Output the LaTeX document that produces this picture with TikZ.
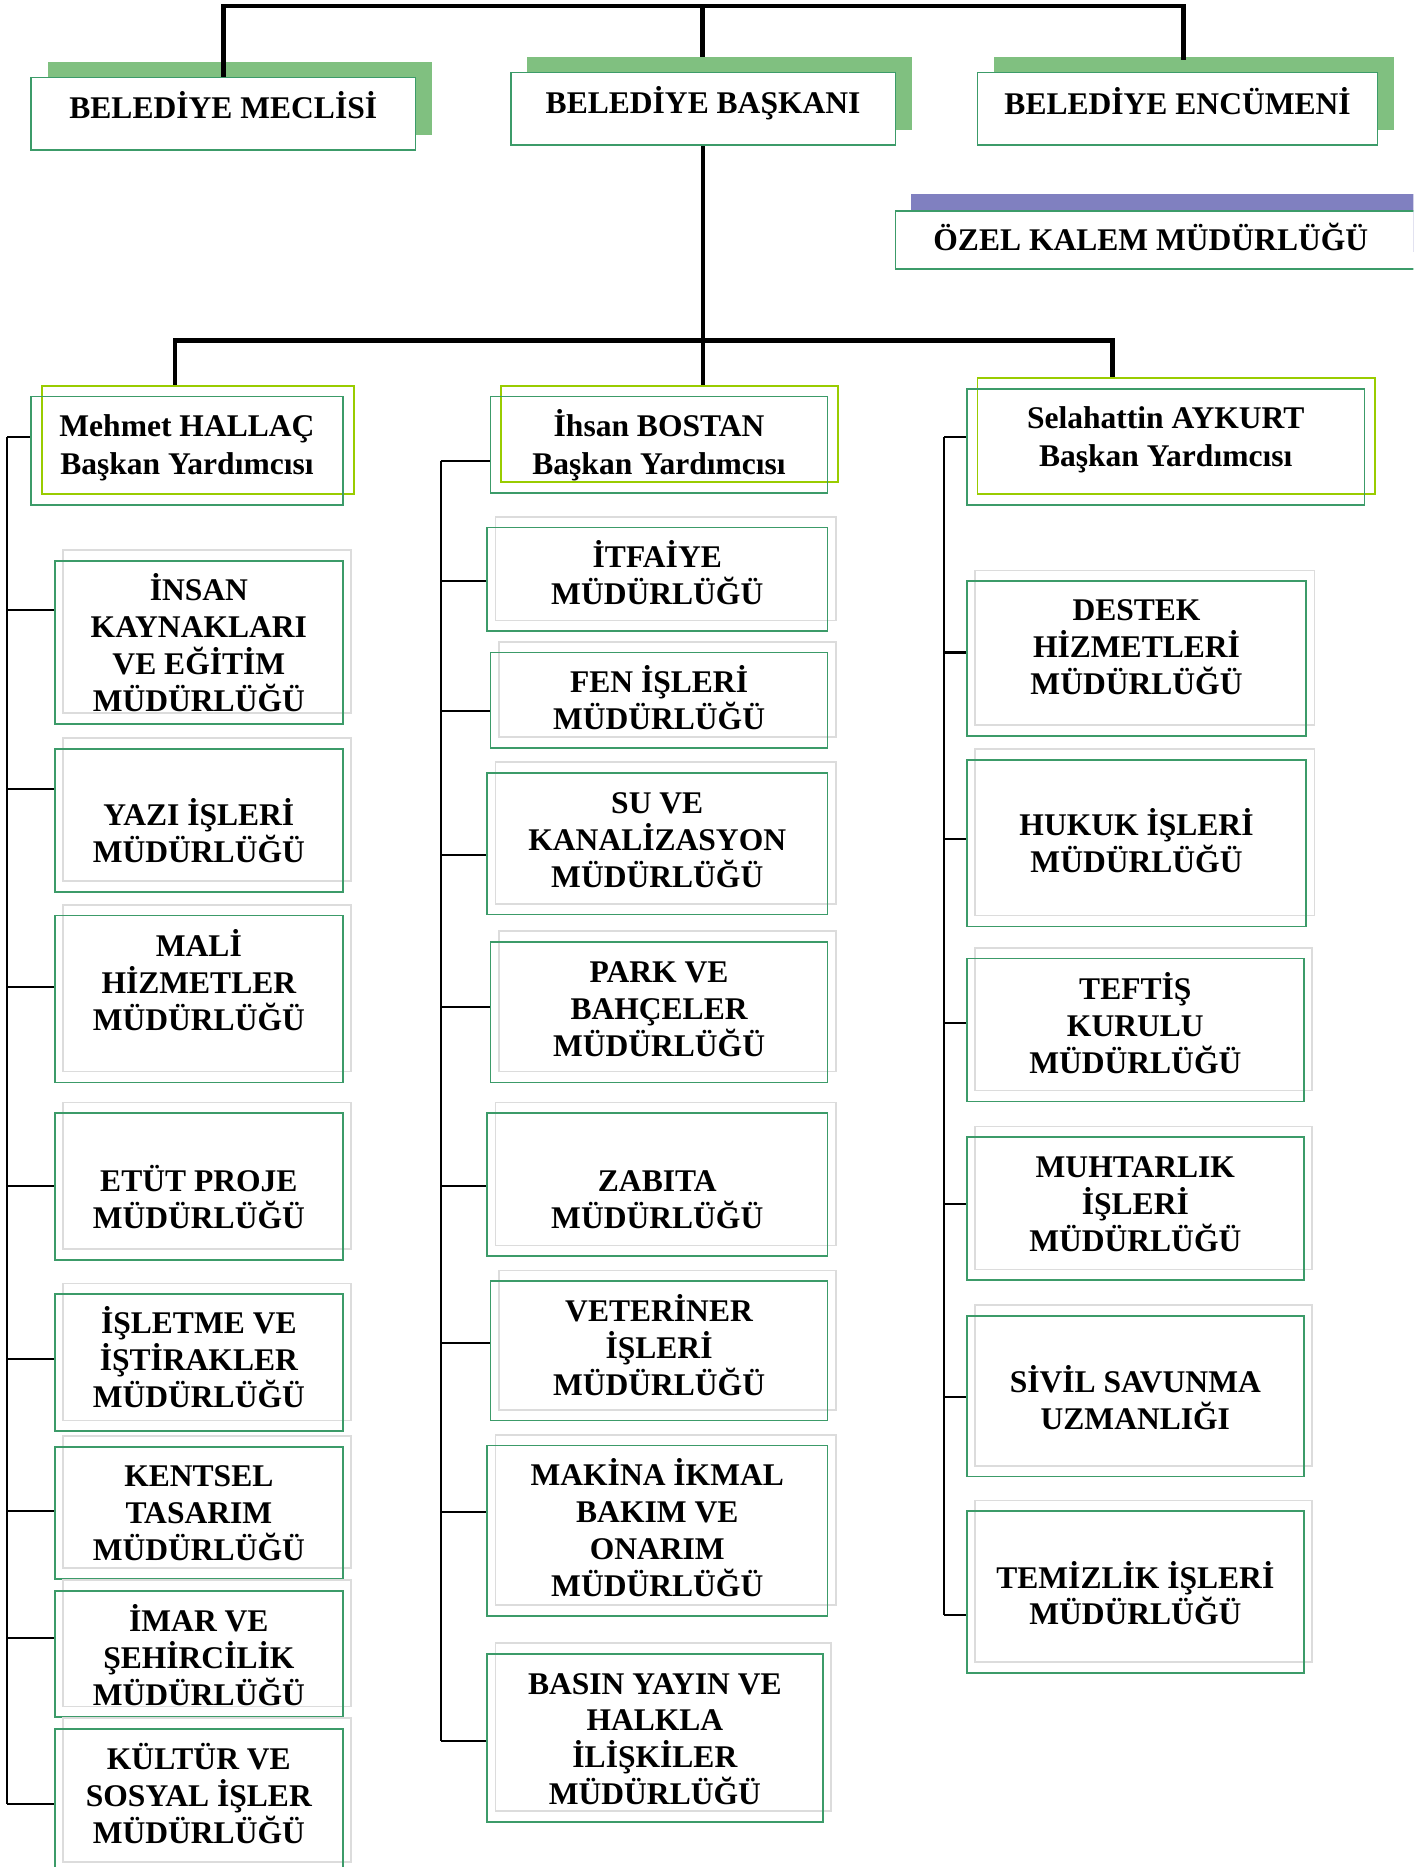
\documentclass[tikz,border=0pt]{standalone}
\usepackage{fontspec}
\setmainfont{Liberation Serif}
\definecolor{grn}{RGB}{60,155,105}
\definecolor{shgreen}{RGB}{128,192,128}
\definecolor{limec}{RGB}{153,204,0}
\definecolor{shgray}{RGB}{220,220,220}
\definecolor{purp}{RGB}{128,128,192}
\newcommand\mlines[2][31]{{\let\\\cr\vbox{\baselineskip=#1pt\lineskiplimit=-\maxdimen\lineskip=0pt\halign{\hfil\smash{##}\vrule height .7\baselineskip depth .3\baselineskip width 0pt\hfil\cr#2\crcr}}}}
\newcommand\rbox[6]{\node[#1, minimum width={(#5)-(#3)}, minimum height={(#6)-(#4)}] (#2) at ({((#3)+(#5))/2},{((#4)+(#6))/2}) {};}
\newcommand\dept[7]{%
  \rbox{shbox}{#1s}{#2+7}{#3-9}{#4+7}{#5-9}
  \rbox{gboxt}{#1}{#2}{#3}{#4}{#5}
  \node[lbl] (#1t) at ({((#2)+(#4))/2},#6) {\mlines{#7}};}
\newcommand\vpbox[7]{%
  \rbox{limebox}{#1l}{#2+9}{#3-9}{#4+9}{#5-9}
  \rbox{gboxt}{#1}{#2}{#3}{#4}{#5}
  \node[lbl] (#1t) at ({((#2)+(#4))/2},#6) {\mlines[32]{#7}};}
\newcommand\topbox[7]{%
  \rbox{topsh}{#1s}{#2+14}{#3-13}{#4+14}{#5-13}
  \rbox{gbox}{#1}{#2}{#3}{#4}{#5}
  \node[lbl] (#1t) at ({((#2)+(#4))/2},#6) {\mlines{#7}};}
\begin{document}
\begin{tikzpicture}[x=1pt,y=-1pt,
  gbox/.style={draw=grn, line width=1.4pt, fill=white, inner sep=0pt},
  gboxt/.style={draw=grn, line width=1.4pt, inner sep=0pt},
  shbox/.style={draw=shgray, line width=1.3pt, inner sep=0pt},
  limebox/.style={draw=limec, line width=1.5pt, fill=white, inner sep=0pt},
  topsh/.style={fill=shgreen, inner sep=0pt},
  purpsh/.style={fill=purp, inner sep=0pt},
  lbl/.style={inner sep=0pt, font=\bfseries\fontsize{26.5}{31}\selectfont},
  mainline/.style={line width=4pt},
  thinline/.style={line width=1.7pt}]
\useasboundingbox (0,0) rectangle (1187,1568);
\clip (0,0) rectangle (1187,1568);

% top row
\topbox{mec}{26}{65}{349}{126}{93}{BELEDİYE MECLİSİ}
\topbox{bsk}{429}{61}{752}{122}{89}{BELEDİYE BAŞKANI}
\topbox{enc}{821}{61}{1157}{122}{90}{BELEDİYE ENCÜMENİ}
\rbox{purpsh}{ozels}{765}{163}{1200}{212}
\rbox{gbox}{ozel}{752}{177}{1200}{226}
\node[lbl] (ozelt) at (966.5,204) {\mlines{ÖZEL KALEM MÜDÜRLÜĞÜ}};

% vice presidents
\vpbox{mh}{26}{333}{288}{424}{376.4}{Mehmet HALLAÇ\\Başkan Yardımcısı}
\vpbox{ib}{412}{333}{695}{414}{376.4}{İhsan BOSTAN\\Başkan Yardımcısı}
\vpbox{sa}{812}{326.5}{1146}{424}{369.4}{Selahattin AYKURT\\Başkan Yardımcısı}

% top connectors
\coordinate (topbar) at (590,5);
\coordinate (encj) at (994,50);
\draw[mainline] (mec.north) |- (topbar) -| (encj);
\draw[mainline] (topbar) -- (topbar |- bsks.north);
\coordinate (bl) at (147,286);
\coordinate (br) at (934,286);
\draw[mainline] (bsk.south) -- (bsk.south |- ibl.north);
\draw[mainline] (bl |- mhl.north) -- (bl) -- (br) -- (br |- sal.north);

% left column
\dept{ins}{46}{471}{288}{608}{545}{İNSAN\\KAYNAKLARI\\VE EĞİTİM\\MÜDÜRLÜĞÜ}
\dept{yaz}{46}{629}{288}{749}{703}{YAZI İŞLERİ\\MÜDÜRLÜĞÜ}
\dept{mal}{46}{769}{288}{909}{828}{MALİ\\HİZMETLER\\MÜDÜRLÜĞÜ}
\dept{etu}{46}{935}{288}{1058}{1010}{ETÜT PROJE\\MÜDÜRLÜĞÜ}
\dept{isl}{46}{1087}{288}{1202}{1145}{İŞLETME VE\\İŞTİRAKLER\\MÜDÜRLÜĞÜ}
\dept{ken}{46}{1215}{288}{1326}{1273}{KENTSEL\\TASARIM\\MÜDÜRLÜĞÜ}
\dept{ima}{46}{1336}{288}{1442}{1395}{İMAR VE\\ŞEHİRCİLİK\\MÜDÜRLÜĞÜ}
\dept{kul}{46}{1452}{288}{1573}{1511}{KÜLTÜR VE\\SOSYAL İŞLER\\MÜDÜRLÜĞÜ}

% middle column
\dept{itf}{409}{443}{695}{530}{486}{İTFAİYE\\MÜDÜRLÜĞÜ}
\dept{fen}{412}{548}{695}{628}{591}{FEN İŞLERİ\\MÜDÜRLÜĞÜ}
\dept{suk}{409}{649}{695}{768}{708}{SU VE\\KANALİZASYON\\MÜDÜRLÜĞÜ}
\dept{prk}{412}{791}{695}{909}{850}{PARK VE\\BAHÇELER\\MÜDÜRLÜĞÜ}
\dept{zab}{409}{935}{695}{1055}{1010}{ZABITA\\MÜDÜRLÜĞÜ}
\dept{vet}{412}{1076}{695}{1193}{1135}{VETERİNER\\İŞLERİ\\MÜDÜRLÜĞÜ}
\dept{mak}{409}{1214}{695}{1357}{1288}{MAKİNA İKMAL\\BAKIM VE\\ONARIM\\MÜDÜRLÜĞÜ}
\dept{bas}{409}{1389}{691}{1530}{1463}{BASIN YAYIN VE\\HALKLA\\İLİŞKİLER\\MÜDÜRLÜĞÜ}

% right column
\dept{des}{812}{488}{1097}{618}{546}{DESTEK\\HİZMETLERİ\\MÜDÜRLÜĞÜ}
\dept{huk}{812}{638}{1097}{778}{711}{HUKUK İŞLERİ\\MÜDÜRLÜĞÜ}
\dept{tef}{812}{805}{1095}{925}{864}{TEFTİŞ\\KURULU\\MÜDÜRLÜĞÜ}
\dept{muh}{812}{955}{1095}{1075}{1014}{MUHTARLIK\\İŞLERİ\\MÜDÜRLÜĞÜ}
\dept{siv}{812}{1105}{1095}{1240}{1179}{SİVİL SAVUNMA\\UZMANLIĞI}
\dept{tem}{812}{1269}{1095}{1405}{1343}{TEMİZLİK İŞLERİ\\MÜDÜRLÜĞÜ}

% column trunks and stubs
\foreach \n/\y [count=\i] in {mh/367,ins/512,yaz/663,mal/829,etu/996,isl/1141,ken/1269,ima/1376,kul/1515}
  {\coordinate (L\i) at (6,\y); \draw[thinline] (L\i) -- (L\i -| \n.west);}
\draw[thinline] (L1) -- (L9);
\foreach \n/\y [count=\i] in {ib/387,itf/488,fen/597,suk/718,prk/846,zab/996,vet/1128,mak/1270,bas/1462}
  {\coordinate (M\i) at (370,\y); \draw[thinline] (M\i) -- (M\i -| \n.west);}
\draw[thinline] (M1) -- (M9);
\foreach \n/\y [count=\i] in {sa/367,des/548,huk/705,tef/859,muh/1011,siv/1173,tem/1356}
  {\coordinate (R\i) at (793,\y); \draw[thinline] (R\i) -- (R\i -| \n.west);}
\draw[thinline] (R1) -- (R7);
\end{tikzpicture}
\end{document}
